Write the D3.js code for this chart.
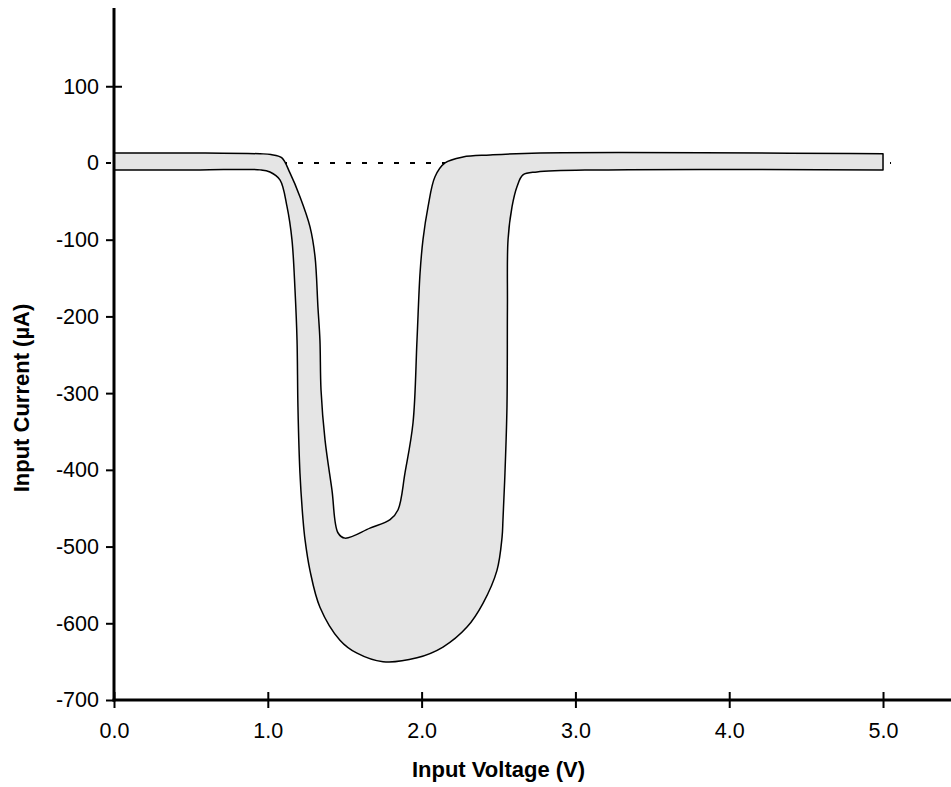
<!DOCTYPE html>
<html>
<head>
<meta charset="utf-8">
<script src="https://cdn.jsdelivr.net/npm/d3@7"></script>
<style>
  body { margin: 0; background: #fff; }
  svg { display: block; font-family: "Liberation Sans", Arial, Helvetica, sans-serif; }
</style>
</head>
<body>
<svg id="chart"></svg>
<script>
// upper edge of the band (max input current)
const upperVolts = [0.0, 0.56, 0.95, 1.02, 1.09, 1.144, 1.209, 1.274, 1.307, 1.326, 1.339, 1.346, 1.372, 1.417, 1.456, 1.502,
    1.664, 1.795, 1.847, 1.892, 1.944, 1.970, 1.990, 2.009, 2.042, 2.087, 2.152, 2.269, 2.445, 2.77, 5.0];
const upperCurrent = [13, 13, 12, 11, 7, -13, -44, -83, -122, -188, -231, -296, -361, -426, -482, -489,
    -476, -465, -452, -404, -339, -231, -143, -100, -57, -18, 0, 7.8, 10.4, 13, 12];

// lower edge of the band (min input current)
const lowerVolts = [0.0, 0.56, 0.95, 1.014, 1.079, 1.125, 1.157, 1.177, 1.19, 1.196, 1.209, 1.229, 1.242, 1.274, 1.339,
    1.469, 1.58, 1.749, 1.97, 2.139, 2.295, 2.399, 2.49, 2.523, 2.529, 2.542, 2.555, 2.558, 2.562, 2.588,
    2.62, 2.659, 2.75, 3.16, 5.0];
const lowerCurrent = [-9, -9, -9, -11.7, -22, -57, -100, -166, -231, -318, -404, -465, -491, -531, -579,
    -622, -639, -650, -645, -631, -605, -574, -531, -488, -465, -404, -318, -188, -100, -57,
    -31, -15.6, -11.7, -9, -9];

const xTicks = [0, 1, 2, 3, 4, 5];
const yTicks = [100, 0, -100, -200, -300, -400, -500, -600, -700];

const xTitle = "Input Voltage (V)";
const yTitle = "Input Current (\u00B5A)";

const width = 951, height = 787;

const svg = d3.select("#chart")
    .attr("width", width)
    .attr("height", height);

svg.append("rect")
    .attr("width", width)
    .attr("height", height)
    .attr("fill", "#fff");

const x = d3.scaleLinear()
    .domain([0, 5.442])
    .range([114, 951]);

const y = d3.scaleLinear()
    .domain([-700, 202])
    .range([700, 8]);

const upper = upperVolts.map((v, i) => [v, upperCurrent[i]]);
const lower = lowerVolts.map((v, i) => [v, lowerCurrent[i]]).reverse();

// zero reference line, sits under the band
svg.append("line")
    .attr("x1", 106)
    .attr("x2", x(5) + 8)
    .attr("y1", y(0))
    .attr("y2", y(0))
    .attr("stroke", "#000")
    .attr("stroke-width", 2)
    .attr("stroke-dasharray", "5,11");

const line = d3.line()
    .x(d => x(d[0]))
    .y(d => y(d[1]))
    .curve(d3.curveCatmullRom.alpha(0.5));

// closed band: upper edge left->right, lower edge right->left
const bandPath = line(upper) + line(lower).replace(/^M/, "L") + "Z";

svg.append("path")
    .attr("d", bandPath)
    .attr("fill", "#e5e5e5")
    .attr("stroke", "#000")
    .attr("stroke-width", 1.5)
    .attr("stroke-linejoin", "round");

// y axis
const yAxis = svg.append("g")
    .attr("transform", `translate(${x(0)},0)`)
    .call(d3.axisLeft(y)
        .tickValues(yTicks)
        .tickFormat(d => String(d))
        .tickSizeInner(8)
        .tickSizeOuter(0)
        .tickPadding(7));

// x axis
const xAxis = svg.append("g")
    .attr("transform", `translate(0,${y(-700)})`)
    .call(d3.axisBottom(x)
        .tickValues(xTicks)
        .tickFormat(d3.format(".1f"))
        .tickSizeInner(8)
        .tickSizeOuter(0)
        .tickPadding(15));

[xAxis, yAxis].forEach(g => {
    g.select(".domain").attr("stroke", "#000").attr("stroke-width", 3);
    g.selectAll(".tick line").attr("stroke", "#000").attr("stroke-width", 2);
    g.selectAll(".tick text")
        .attr("fill", "#000")
        .style("font-size", "21.5px")
        .style("font-family", "'Liberation Sans', Arial, sans-serif");
});

// ticks on x cross the axis line
xAxis.selectAll(".tick line").attr("y1", -8);

// the 100 tick crosses the axis, the 0 tick is hidden by the dashed line
yAxis.selectAll(".tick line")
    .attr("x2", d => d === 0 ? 0 : -8)
    .attr("x1", d => d === 100 ? 8 : 0);

// extend the y axis line to meet the x axis
yAxis.select(".domain").attr("d", `M0,${y(202)}V${y(-700) + 1.5}`);
xAxis.select(".domain").attr("d", `M${x(0) - 1.5},0H${width}`);

// axis titles
svg.append("text")
    .attr("x", (x(0) + x(5)) / 2)
    .attr("y", 777)
    .attr("text-anchor", "middle")
    .style("font-size", "22px")
    .style("font-weight", "bold")
    .text(xTitle);

svg.append("text")
    .attr("transform", `translate(29,398) rotate(-90)`)
    .attr("text-anchor", "middle")
    .style("font-size", "22px")
    .style("font-weight", "bold")
    .text(yTitle);
</script>
</body>
</html>
